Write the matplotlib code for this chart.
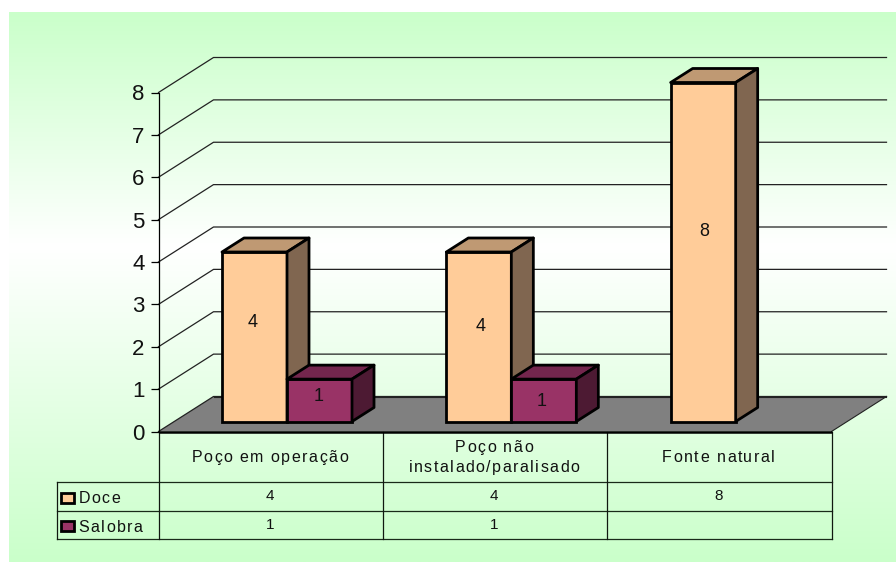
import matplotlib
matplotlib.use("Agg")
import matplotlib.pyplot as plt
import numpy as np
from matplotlib.patches import Polygon, Rectangle
from matplotlib.text import Text
from matplotlib.transforms import IdentityTransform

categories = ["Poço em operação", "Poço não\ninstalado/paralisado", "Fonte natural"]
series_names = ["Doce", "Salobra"]
doce = [4, 4, 8]
salobra = [1, 1, None]
y_ticks = [0, 1, 2, 3, 4, 5, 6, 7, 8]

FRONT = ["#FFCC99", "#993366"]
TOP = ["#BF9973", "#73264D"]
SIDE = ["#806650", "#4D1A33"]

W, H = 896, 562
X0, X1 = 158.5, 831.5      # floor front edge
Y0, Y8 = 431.5, 92.5       # value axis
CAT_W = (X1 - X0) / 3
UNIT = (Y0 - Y8) / 8
WALL_DX, WALL_DY = 55 / CAT_W, 35 / UNIT
BAR_DX, BAR_DY = 22 / CAT_W, 14 / UNIT
BAR_W = 65 / CAT_W
BASE_DX, BASE_DY = 16.5 / CAT_W, 10 / UNIT
GAP = 47 / CAT_W

# bar label nudges in pixels, one list per series
label_dx = [[-1.5, 2, 1.5], [-0.5, -2, 0]]
label_dy = [[14, 10, 21], [3.5, -1, 0]]


class SpacedText(Text):
    # Text with extra tracking between the letters, one string per object
    tracking = 1.5

    def draw(self, renderer):
        fig = self.get_figure()
        px = self.get_transform().transform(self.get_position())
        lines = self.get_text().split("\n")
        em = self.get_fontsize() * fig.dpi / 72
        line_h = em * 1.3
        base = px[1] + (len(lines) - 1) * line_h / 2 - em * 0.36
        for row, line in enumerate(lines):
            widths = []
            for i in range(len(line)):
                w = renderer.get_text_width_height_descent(line[:i + 1], self.get_fontproperties(), False)[0]
                widths.append(w)
            total = widths[-1] + self.tracking * (len(line) - 1)
            if self.get_ha() == "center":
                left = px[0] - total / 2
            else:
                left = px[0]
            for i, ch in enumerate(line):
                prev = widths[i - 1] if i else 0
                t = Text(left + prev + i * self.tracking, base - row * line_h, ch,
                         fontproperties=self.get_fontproperties(), color=self.get_color(),
                         va="baseline", ha="left", transform=IdentityTransform())
                t.set_figure(fig)
                t.draw(renderer)


plt.rcParams["font.family"] = ["Liberation Sans", "DejaVu Sans"]
fig = plt.figure(figsize=(W / 100, H / 100), dpi=100)

# background layer in pixel coordinates: gradient panel and table
bg = fig.add_axes([0, 0, 1, 1])
bg.set_xlim(0, W)
bg.set_ylim(H, 0)
bg.axis("off")

rows = np.linspace(12, H, 256)
levels = np.interp(rows, [12, 247, H], [1, 0, 1])
grad = np.ones((256, 1, 3))
green = np.array([0xCA, 0xFF, 0xCA]) / 255
for c in range(3):
    grad[:, 0, c] = 1 + (green[c] - 1) * levels
bg.imshow(grad, extent=(9, W, H, 12), aspect="auto", interpolation="bilinear", zorder=0)
bg.set_xlim(0, W)
bg.set_ylim(H, 0)

table_ys = [481.7, 511.3, 539.3]
col_xs = [X0 + CAT_W * i for i in range(4)]
for y in table_ys:
    bg.plot([56.7, X1], [y, y], color="#1A2A1A", lw=0.9, zorder=1)
for x in col_xs:
    bg.plot([x, x], [Y0, table_ys[-1]], color="#101810", lw=0.9, zorder=1)
bg.plot([56.7, 56.7], [table_ys[0], table_ys[-1]], color="#101810", lw=0.9, zorder=1)

for i, name in enumerate(categories):
    bg.add_artist(SpacedText(X0 + CAT_W * (i + 0.5) - 1, 456.2, name, fontsize=11.5, color="#111111",
                             ha="center", transform=bg.transData))

legend_ys = [497.6, 526.2]
for name, yc, col in zip(series_names, legend_ys, FRONT):
    bg.add_patch(Rectangle((61, yc - 5), 13, 10, facecolor=col, edgecolor="black", lw=2.0, zorder=2))
    label = SpacedText(78.5, yc, name, fontsize=11.5, color="#111111", ha="left", transform=bg.transData)
    bg.add_artist(label)

for vals, yc in zip([doce, salobra], legend_ys):
    for i, v in enumerate(vals):
        if v is not None:
            bg.text(X0 + CAT_W * (i + 0.5) - 1, yc - 1.5, str(v), fontsize=11, color="#111111",
                    ha="center", va="center", zorder=3)

# chart layer: x in category units, y in data values
ax = fig.add_axes([X0 / W, 1 - Y0 / H, (X1 - X0) / W, (Y0 - Y8) / H])
ax.patch.set_alpha(0)
ax.set_xlim(0, 3)
ax.set_ylim(0, 8)
for side in ["top", "right", "bottom"]:
    ax.spines[side].set_visible(False)
ax.spines["left"].set_linewidth(0.9)
ax.set_xticks([])
ax.set_yticks(y_ticks)
ax.tick_params(axis="y", length=6, width=0.9, pad=4, labelsize=16, labelcolor="#111111")

# floor
ax.add_patch(Polygon([(0, 0), (3, 0), (3 + WALL_DX, WALL_DY), (WALL_DX, WALL_DY)], closed=True,
                     facecolor="#808080", edgecolor="none", clip_on=False, zorder=1))
ax.plot([3, 3 + WALL_DX], [0, WALL_DY], color="#222222", lw=0.8, clip_on=False, zorder=1.5)
ax.plot([WALL_DX, 3 + WALL_DX], [WALL_DY, WALL_DY], color="#222222", lw=0.8, clip_on=False, zorder=1.5)
ax.plot([0, 3], [0, 0], color="black", lw=1.8, clip_on=False, zorder=1.6, solid_capstyle="butt")

# wall gridlines
for v in y_ticks:
    ax.plot([0, WALL_DX, 3 + WALL_DX], [v, v + WALL_DY, v + WALL_DY], color="#222222", lw=0.9,
            clip_on=False, zorder=1.2)

for s, vals in enumerate([doce, salobra]):
    for i, v in enumerate(vals):
        if v is None:
            continue
        x = i + GAP + BASE_DX + s * BAR_W
        top = BASE_DY + v
        right = x + BAR_W
        z = 3 + s
        ax.bar(x, v, BAR_W, bottom=BASE_DY, align="edge", color=FRONT[s], edgecolor="black", linewidth=2.0,
               clip_on=False, zorder=z)
        ax.add_patch(Polygon([(x, top), (right, top), (right + BAR_DX, top + BAR_DY), (x + BAR_DX, top + BAR_DY)],
                             closed=True, facecolor=TOP[s], edgecolor="black", linewidth=2.0,
                             joinstyle="round", clip_on=False, zorder=z))
        ax.add_patch(Polygon([(right, BASE_DY), (right + BAR_DX, BASE_DY + BAR_DY),
                              (right + BAR_DX, top + BAR_DY), (right, top)],
                             closed=True, facecolor=SIDE[s], edgecolor="black", linewidth=2.0,
                             joinstyle="round", clip_on=False, zorder=z))
        ax.annotate(str(v), (x + BAR_W / 2, BASE_DY + v / 2), xytext=(label_dx[s][i], label_dy[s][i]),
                    textcoords="offset pixels", fontsize=13, color="#111111",
                    ha="center", va="center", zorder=6, annotation_clip=False)

fig.savefig("out.png", dpi=100, facecolor="white")
plt.close(fig)
